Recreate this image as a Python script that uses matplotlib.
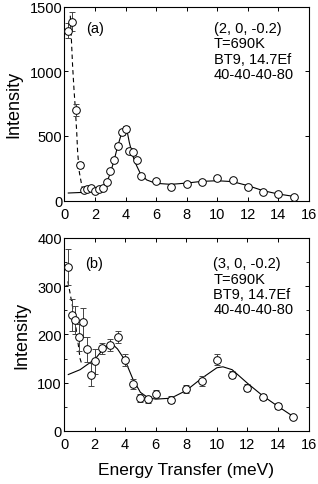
import matplotlib
matplotlib.use("Agg")
import matplotlib.pyplot as plt
from matplotlib.ticker import MultipleLocator

plt.rcParams['font.family'] = ['Liberation Sans', 'DejaVu Sans']

# ---- panel (a) data ----
a_E = [0.25, 0.5, 0.75, 1.0, 1.25, 1.5, 1.75, 2.0, 2.25, 2.5, 2.75, 3.0, 3.25, 3.5,
       3.75, 4.0, 4.25, 4.5, 4.75, 5.0, 6, 7, 8, 9, 10, 11, 12, 13, 14, 15]
a_I = [1313, 1383, 700, 274, 81, 89, 99, 71, 89, 99, 141, 231, 313, 424,
       527, 553, 384, 374, 312, 193, 148, 102, 128, 143, 177, 159, 102, 68, 50, 24]
a_err = [60, 72, 45, 25, 10, 10, 10, 10, 10, 10, 12, 15, 17, 20,
         22, 23, 20, 20, 18, 14, 12, 10, 11, 12, 13, 12, 10, 8, 7, 5]
a_fitE = [0.25, 1.23, 2.1, 2.54, 2.76, 2.98, 3.24, 3.46, 3.72, 3.94, 4.07, 4.24, 4.46,
          4.72, 4.98, 5.38, 5.97, 6.97, 8.0, 8.98, 10.0, 11.0, 12.0, 13.0, 14.0, 15.0]
a_fitI = [58, 63, 84, 107, 140, 205, 308, 411, 514, 566, 553, 450, 347,
          269, 205, 159, 133, 125, 135, 148, 153, 146, 115, 76, 50, 32]
a_dashE = [0.38, 0.53, 0.62, 0.71, 0.8, 0.86, 0.97, 1.15, 1.36]
a_dashI = [1429, 1043, 862, 708, 529, 374, 220, 104, 76]

# ---- panel (b) data ----
b_E = [0.25, 0.5, 0.75, 1.0, 1.25, 1.5, 1.75, 2.0, 2.5, 3.0, 3.5, 4.0, 4.5, 5.0,
       5.5, 6, 7, 8, 9, 10, 11, 12, 13, 14, 15]
b_I = [340, 240, 230, 194, 225, 169, 117, 144, 171, 178, 195, 147, 97, 68,
       66, 76, 65, 87, 103, 148, 117, 90, 71, 52, 29]
b_err = [38, 33, 28, 28, 30, 26, 23, 25, 12, 12, 12, 12, 10, 8,
         7, 8, 7, 8, 10, 12, 8, 8, 6, 6, 4]
b_fitE = [0.28, 1.05, 2.03, 2.55, 3.0, 3.1, 3.5, 4.0, 4.5, 5.0, 5.5, 6.0, 7.0, 8.0,
          9.0, 10.0, 10.4, 11.0, 12.0, 13.0, 14.0, 15.0]
b_fitI = [117, 127, 149, 169, 181, 182, 170, 146, 108, 80, 69, 66, 68, 84,
          109, 131, 133, 127, 99, 73, 51, 30]
b_dashE = [0.25, 0.4, 0.6, 0.8, 0.95, 1.05, 1.15]
b_dashI = [310, 285, 250, 210, 175, 150, 140]

xticks = [0, 2, 4, 6, 8, 10, 12, 14, 16]

fig = plt.figure(figsize=(3.18, 4.85), dpi=100)
ax1 = fig.add_axes([0.2028, 0.5845, 0.769, 0.400])
ax2 = fig.add_axes([0.2013, 0.1093, 0.769, 0.398])

def style(ax):
    for s in ax.spines.values():
        s.set_linewidth(0.8)
    ax.tick_params(direction='in', top=True, right=True, length=3, width=0.7,
                   labelsize=10.5)
    ax.tick_params(axis='y', pad=1.5)
    ax.tick_params(axis='x', pad=4.5)
    ax.set_xlim(0, 16)
    ax.set_xticks(xticks)

# panel a
ax1.plot(a_fitE, a_fitI, '-', color='black', lw=0.8, zorder=2)
ax1.plot(a_dashE, a_dashI, '--', color='black', lw=0.8, dashes=(4, 3), zorder=2)
ax1.errorbar(a_E, a_I, yerr=a_err, fmt='o', mfc='white', mec='black', mew=0.7,
             ms=5.5, ecolor='#444444', elinewidth=0.7, capsize=2, capthick=0.7, zorder=3)
style(ax1)
ax1.set_ylim(0, 1500)
ax1.set_yticks([0, 500, 1000, 1500])
ax1.set_ylabel('Intensity', fontsize=13, labelpad=5)
ax1.text(0.088, 0.925, '(a)', transform=ax1.transAxes, fontsize=10.5, va='top', ha='left')
ax1.text(0.611, 0.925, '(2, 0, -0.2)\nT=690K\nBT9, 14.7Ef\n40-40-40-80',
         transform=ax1.transAxes, fontsize=10.5, va='top', ha='left', linespacing=1.12)

# panel b
ax2.plot(b_fitE, b_fitI, '-', color='black', lw=0.8, zorder=2)
ax2.plot(b_dashE, b_dashI, '--', color='black', lw=0.8, dashes=(4, 3), zorder=2)
ax2.errorbar(b_E, b_I, yerr=b_err, fmt='o', mfc='white', mec='black', mew=0.7,
             ms=5.5, ecolor='#444444', elinewidth=0.7, capsize=2, capthick=0.7, zorder=3)
style(ax2)
ax2.set_ylim(0, 400)
ax2.set_yticks([0, 100, 200, 300, 400])
ax2.yaxis.set_minor_locator(MultipleLocator(50))
ax2.tick_params(which='minor', direction='in', right=True, length=2, width=0.6)
ax2.set_ylabel('Intensity', fontsize=13, labelpad=5)
ax2.set_xlabel('Energy Transfer (meV)', fontsize=12.5, labelpad=8)
ax2.text(0.088, 0.905, '(b)', transform=ax2.transAxes, fontsize=10.5, va='top', ha='left')
ax2.text(0.611, 0.905, '(3, 0, -0.2)\nT=690K\nBT9, 14.7Ef\n40-40-40-80',
         transform=ax2.transAxes, fontsize=10.5, va='top', ha='left', linespacing=1.12)

fig.savefig('out.png', dpi=100)
